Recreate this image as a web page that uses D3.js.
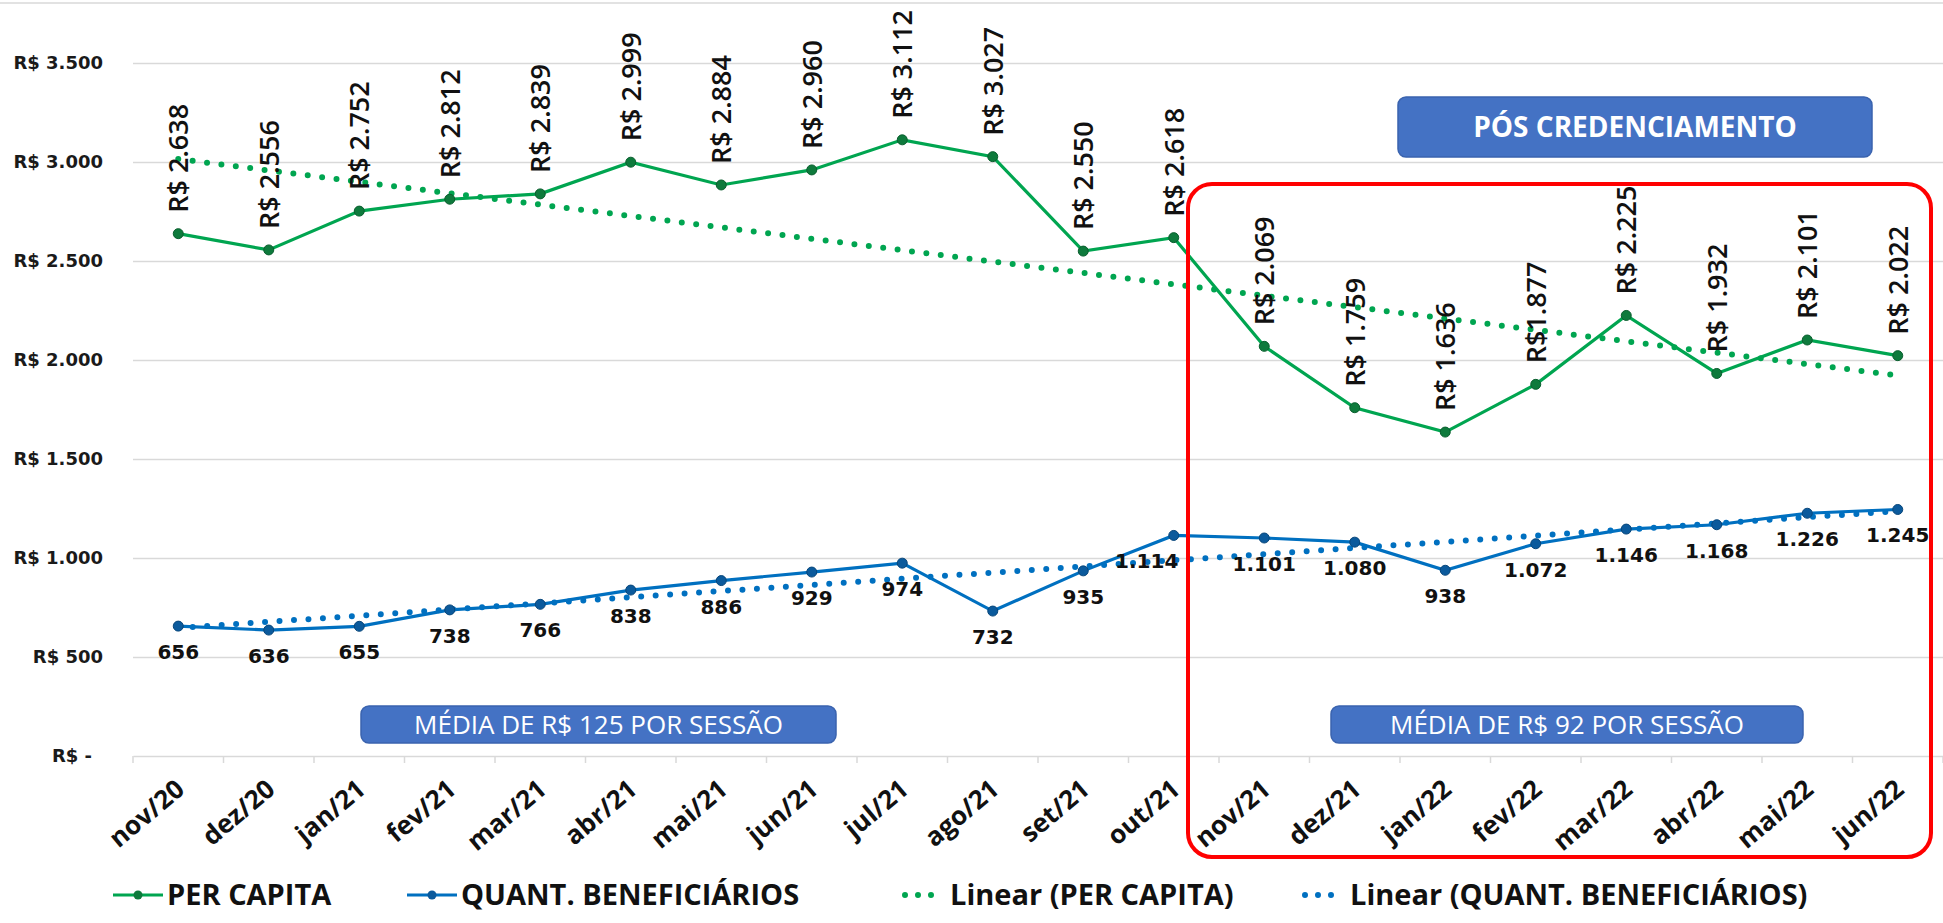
<!DOCTYPE html>
<html>
<head>
<meta charset="utf-8">
<script src="https://cdn.jsdelivr.net/npm/d3@7/dist/d3.min.js"></script>
<style>
  body { margin: 0; background: #fff; }
</style>
</head>
<body>
<div id="chart"></div>
<script>
// meses (categorias)
var months = ["nov/20", "dez/20", "jan/21", "fev/21", "mar/21", "abr/21", "mai/21", "jun/21", "jul/21", "ago/21",
              "set/21", "out/21", "nov/21", "dez/21", "jan/22", "fev/22", "mar/22", "abr/22", "mai/22", "jun/22"]

var perCapita = [2638, 2556, 2752, 2812, 2839, 2999, 2884, 2960, 3112, 3027,
                 2550, 2618, 2069, 1759, 1636, 1877, 2225, 1932, 2101, 2022]
var perCapitaText = ["R$ 2.638", "R$ 2.556", "R$ 2.752", "R$ 2.812", "R$ 2.839", "R$ 2.999", "R$ 2.884", "R$ 2.960", "R$ 3.112", "R$ 3.027",
                     "R$ 2.550", "R$ 2.618", "R$ 2.069", "R$ 1.759", "R$ 1.636", "R$1.877", "R$ 2.225", "R$ 1.932", "R$ 2.101", "R$ 2.022"]

var beneficiarios = [656, 636, 655, 738, 766, 838, 886, 929, 974, 732,
                     935, 1114, 1101, 1080, 938, 1072, 1146, 1168, 1226, 1245]

var yTicks = [0, 500, 1000, 1500, 2000, 2500, 3000, 3500]
var legendNames = ["PER CAPITA", "QUANT. BENEFICIÁRIOS", "Linear (PER CAPITA)", "Linear (QUANT. BENEFICIÁRIOS)"]

var W = 1943, H = 923
var green = "#00A550", greenDark = "#0E7A3C"
var blue = "#0070C0", blueDark = "#0B5A9C"
var grid = "#D9D9D9"

var svg = d3.select("#chart").append("svg")
    .attr("width", W).attr("height", H)
    .style("background", "#fff")

var x = d3.scalePoint().domain(months).range([133, 1943]).padding(0.5)
var y = d3.scaleLinear().domain([0, 3500]).range([756, 63])

var fmt = d3.formatLocale({decimal: ",", thousands: ".", grouping: [3], currency: ["R$ ", ""]}).format(",d")

// borda superior
svg.append("line").attr("x1", 0).attr("x2", W).attr("y1", 3).attr("y2", 3)
   .style("stroke", grid).style("stroke-width", 1.5)

// grade e eixo y
var yAxis = svg.append("g")
    .attr("transform", "translate(133,0)")
    .call(d3.axisLeft(y).tickValues(yTicks).tickSize(-1810).tickPadding(30)
        .tickFormat(function(d){ return d === 0 ? "R$ -" : "R$ " + fmt(d) }))
yAxis.select(".domain").remove()
yAxis.selectAll(".tick line").style("stroke", grid).style("stroke-width", 1.5)
yAxis.selectAll(".tick").filter(function(d){ return d === 0 }).select("line").remove()
yAxis.selectAll(".tick text")
    .style("font-family", "'DejaVu Sans', Verdana, sans-serif")
    .style("font-weight", "bold").style("font-size", "18px").style("fill", "#1a1a1a")
    .attr("dx", function(d){ return d === 0 ? -11 : 0 })

// eixo x
var xAxis = svg.append("g")
    .attr("transform", "translate(0,756)")
    .call(d3.axisBottom(x).tickSize(0).tickFormat(""))
xAxis.select(".domain").style("stroke", grid).style("stroke-width", 1.5)
var bounds = d3.range(months.length + 1).map(function(i){ return x(months[0]) - x.step() / 2 + i * x.step() })
svg.append("g").selectAll("line").data(bounds).enter().append("line")
   .attr("x1", d => d).attr("x2", d => d).attr("y1", 756).attr("y2", 763)
   .style("stroke", grid).style("stroke-width", 1.5)

svg.append("g").selectAll("text").data(months).enter().append("text")
   .attr("transform", d => "translate(" + (x(d) + 8) + ",792) rotate(-40)")
   .attr("text-anchor", "end")
   .style("font-family", "'Open Sans', sans-serif").style("font-weight", "bold")
   .style("font-size", "26px").style("fill", "#111")
   .text(d => d)

// linhas de tendencia (regressao linear, como no Excel)
function trend(vals) {
  var idx = d3.range(vals.length)
  var mx = d3.mean(idx), my = d3.mean(vals)
  var b = d3.sum(idx, i => (i - mx) * (vals[i] - my)) / d3.sum(idx, i => (i - mx) * (i - mx))
  var a = my - b * mx
  return [[0, a], [vals.length - 1, a + b * (vals.length - 1)]]
}

var line = d3.line().x((d, i) => x(months[i])).y(d => y(d))
var tline = d3.line().x(d => x(months[d[0]])).y(d => y(d[1]))

svg.append("path").datum(perCapita).attr("d", line)
   .style("fill", "none").style("stroke", green).style("stroke-width", 3.2)
svg.append("path").datum(beneficiarios).attr("d", line)
   .style("fill", "none").style("stroke", blue).style("stroke-width", 3.2)

svg.append("path").datum(trend(perCapita)).attr("d", tline)
   .style("fill", "none").style("stroke", green).style("stroke-width", 6)
   .style("stroke-linecap", "round").style("stroke-dasharray", "0 14.5")
svg.append("path").datum(trend(beneficiarios)).attr("d", tline)
   .style("fill", "none").style("stroke", blue).style("stroke-width", 6)
   .style("stroke-linecap", "round").style("stroke-dasharray", "0 14.5")

// marcadores
svg.append("g").selectAll("circle").data(perCapita).enter().append("circle")
   .attr("cx", (d, i) => x(months[i])).attr("cy", d => y(d)).attr("r", 5)
   .style("fill", greenDark).style("stroke", "#0a5e2e").style("stroke-width", 1)
svg.append("g").selectAll("circle").data(beneficiarios).enter().append("circle")
   .attr("cx", (d, i) => x(months[i])).attr("cy", d => y(d)).attr("r", 5)
   .style("fill", blueDark).style("stroke", "#08467a").style("stroke-width", 1)

// rotulos PER CAPITA (verticais)
svg.append("g").selectAll("text").data(perCapita).enter().append("text")
   .attr("transform", (d, i) => "translate(" + (x(months[i]) + 10) + "," + (y(d) - 21) + ") rotate(-90)")
   .style("font-family", "'Open Sans', sans-serif").style("font-weight", 600)
   .style("font-size", "27px").style("fill", "#111")
   .text((d, i) => perCapitaText[i])

// rotulos QUANT. BENEFICIARIOS
var labelNudge = {"out/21": -27}
svg.append("g").selectAll("text").data(beneficiarios).enter().append("text")
   .attr("x", (d, i) => x(months[i]) + (labelNudge[months[i]] || 0))
   .attr("y", d => y(d) + 33)
   .attr("text-anchor", "middle")
   .style("font-family", "'DejaVu Sans', Verdana, sans-serif").style("font-weight", "bold")
   .style("font-size", "20px").style("fill", "#111")
   .text(d => fmt(d))

// caixas de anotacao
function box(x0, y0, w, h, label, weight, size) {
  var g = svg.append("g")
  g.append("rect").attr("x", x0).attr("y", y0).attr("width", w).attr("height", h)
   .attr("rx", 8).style("fill", "#4472C4").style("stroke", "#3A63AE").style("stroke-width", 1.5)
  g.append("text").attr("x", x0 + w / 2).attr("y", y0 + h / 2).attr("dy", "0.35em")
   .attr("text-anchor", "middle")
   .style("font-family", "'Open Sans', sans-serif").style("font-weight", weight)
   .style("font-size", size + "px").style("fill", "#fff")
   .text(label)
}
box(1398, 97, 474, 60, "PÓS CREDENCIAMENTO", "bold", 28)
box(361, 706, 475, 37, "MÉDIA DE R$ 125 POR SESSÃO", "normal", 26)
box(1331, 706, 472, 37, "MÉDIA DE R$ 92 POR SESSÃO", "normal", 26)

// destaque vermelho
svg.append("rect").attr("x", 1188).attr("y", 184).attr("width", 743).attr("height", 673)
   .attr("rx", 24).style("fill", "none").style("stroke", "#FF0000").style("stroke-width", 4)

// legenda
var legendX = [113, 407, 900, 1300]
var leg = svg.append("g").selectAll("g").data(legendNames).enter().append("g")
   .attr("transform", (d, i) => "translate(" + legendX[i] + ",895)")
leg.each(function(d, i) {
  var g = d3.select(this)
  var col = (i % 2 === 0) ? green : blue
  if (i < 2) {
    g.append("line").attr("x1", 0).attr("x2", 50).style("stroke", col).style("stroke-width", 3.2)
    g.append("circle").attr("cx", 25).attr("r", 4.5).style("fill", i === 0 ? greenDark : blueDark)
    g.append("text").attr("x", 54).attr("dy", "0.35em")
     .style("font-family", "'Open Sans', sans-serif").style("font-weight", "bold")
     .style("font-size", "29px").style("fill", "#111").text(d)
  } else {
    g.append("line").attr("x1", 5).attr("x2", 36).style("stroke", col).style("stroke-width", 6)
     .style("stroke-linecap", "round").style("stroke-dasharray", "0 13")
    g.append("text").attr("x", 50).attr("dy", "0.35em")
     .style("font-family", "'Open Sans', sans-serif").style("font-weight", "bold")
     .style("font-size", "29px").style("fill", "#111").text(d)
  }
})
</script>
</body>
</html>
